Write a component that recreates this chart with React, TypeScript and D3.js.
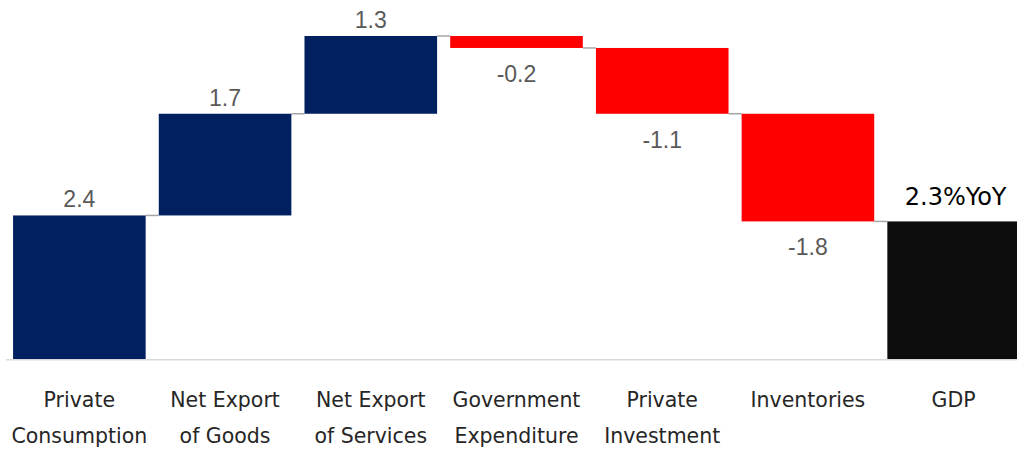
import React from "react";
import * as d3 from "d3";

const categories: string[][] = [
  ["Private", "Consumption"],
  ["Net Export", "of Goods"],
  ["Net Export", "of Services"],
  ["Government", "Expenditure"],
  ["Private", "Investment"],
  ["Inventories"],
  ["GDP"],
];
const contributions: number[] = [2.4, 1.7, 1.3, -0.2, -1.1, -1.8];
const totalValue = 2.3;
const totalLabel = "2.3%YoY";

const W = 1017;
const H = 449;
const LABEL_FONT = "'DejaVu Sans', 'Noto Sans', sans-serif";
const VALUE_FONT = "'Liberation Sans', Arial, sans-serif";

export default function App() {
  const keys = categories.map((c) => c.join(" "));
  const x = d3
    .scaleBand<string>()
    .domain(keys)
    .range([6.5, 1026.5])
    .paddingInner(0.09)
    .paddingOuter(0.045);
  const y = d3.scaleLinear().domain([0, 5.4]).range([359, 36]);

  let cum = 0;
  const bars = contributions.map((v, i) => {
    const start = cum;
    cum += v;
    return { key: keys[i], start, end: cum, v, total: false };
  });
  const all = [
    ...bars,
    { key: keys[6], start: 0, end: totalValue, v: totalValue, total: true },
  ];

  const bw = x.bandwidth();
  const colorOf = (d: any) =>
    d.total ? "#0d0d0d" : d.v >= 0 ? "#002060" : "#ff0000";
  const fmt = (v: number) => d3.format(".1f")(v).replace("\u2212", "-");

  return (
    <svg
      width={W}
      height={H}
      style={{ position: "absolute", left: 0, top: 0 }}
    >
      <line x1={6} x2={W} y1={y(0) + 0.75} y2={y(0) + 0.75} stroke="#d9d9d9" strokeWidth={1.5} />
      {all.slice(0, -1).map((d, i) => {
        const next = all[i + 1];
        const lvl = d.end;
        return (
          <line
            key={"c" + i}
            x1={(x(d.key) as number) + bw}
            x2={x(next.key) as number}
            y1={y(lvl)}
            y2={y(lvl)}
            stroke="#a6a6a6"
            strokeWidth={1.5}
          />
        );
      })}
      {all.map((d) => {
        const top = y(Math.max(d.start, d.end));
        const bot = y(Math.min(d.start, d.end));
        return (
          <rect
            key={d.key}
            x={x(d.key)}
            y={top}
            width={bw}
            height={bot - top}
            fill={colorOf(d)}
          />
        );
      })}
      {all.map((d) => {
        const cx = (x(d.key) as number) + bw / 2;
        if (d.total) {
          return (
            <text
              key={"l" + d.key}
              x={cx + 2}
              y={y(d.end) - 16.5}
              textAnchor="middle"
              fontSize={24}
              fontFamily={LABEL_FONT}
              fill="#000"
            >
              {totalLabel}
            </text>
          );
        }
        const pos = d.v >= 0;
        const yy = pos ? y(d.end) - 8 : y(d.end) + 34;
        return (
          <text
            key={"l" + d.key}
            x={cx}
            y={yy}
            textAnchor="middle"
            fontSize={23}
            fontFamily={VALUE_FONT}
            fill="#595959"
          >
            {fmt(d.v)}
          </text>
        );
      })}
      {categories.map((lines, i) => {
        const cx = (x(keys[i]) as number) + bw / 2;
        return (
          <text
            key={"x" + i}
            textAnchor="middle"
            fontSize={20.5}
            fontFamily={LABEL_FONT}
            fill="#262626"
          >
            {lines.map((ln, j) => (
              <tspan key={j} x={cx} y={407 + j * 35.5}>
                {ln}
              </tspan>
            ))}
          </text>
        );
      })}
    </svg>
  );
}
